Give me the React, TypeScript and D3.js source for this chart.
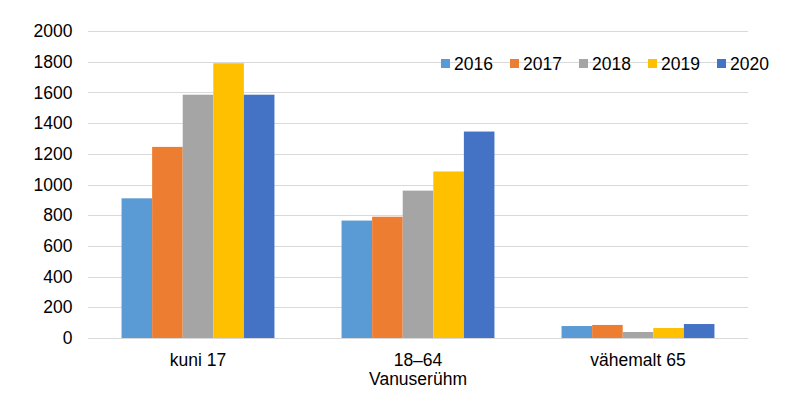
import * as d3 from "d3";

const categories = ["kuni 17", "18–64", "vähemalt 65"];
const years = ["2016", "2017", "2018", "2019", "2020"];
const values2016 = [910, 765, 78];
const values2017 = [1245, 790, 85];
const values2018 = [1585, 960, 39];
const values2019 = [1790, 1085, 65];
const values2020 = [1585, 1345, 91];
const yTicks = [0, 200, 400, 600, 800, 1000, 1200, 1400, 1600, 1800, 2000];
const colors = ["#5B9BD5", "#ED7D31", "#A5A5A5", "#FFC000", "#4472C4"];
const axisTitle = "Vanuserühm";

const series = [values2016, values2017, values2018, values2019, values2020];

const App = () => {
  const width = 786;
  const height = 395;
  const left = 88;
  const right = 748;
  const top = 31;
  const bottom = 338;

  const x0 = d3
    .scaleBand()
    .domain(categories)
    .range([left, right])
    .paddingInner(0.305)
    .paddingOuter(0.1525);
  const x1 = d3.scaleBand().domain(years).range([0, x0.bandwidth()]);
  const y = d3.scaleLinear().domain([0, 2000]).range([bottom, top]);

  const font = "'Liberation Sans', Arial, sans-serif";
  const fs = 17.5;

  return (
    <svg
      width={width}
      height={height}
      style={{ position: "absolute", left: 0, top: 0 }}
      fontFamily={font}
    >
      <rect width={width} height={height} fill="white" />
      {/* grid */}
      {yTicks.map((t) => (
        <g key={t}>
          <line
            x1={left}
            x2={right}
            y1={Math.round(y(t)) + 0.5}
            y2={Math.round(y(t)) + 0.5}
            stroke="#D9D9D9"
            strokeWidth={1}
          />
          <text
            x={72.5}
            y={y(t)}
            dy="0.35em"
            textAnchor="end"
            fontSize={fs}
            fill="#000"
          >
            {t}
          </text>
        </g>
      ))}
      {/* bars */}
      {categories.map((c, ci) => (
        <g key={c} transform={`translate(${x0(c)},0)`}>
          {years.map((yr, si) => (
            <rect
              key={yr}
              x={x1(yr)}
              y={y(series[si][ci])}
              width={x1.bandwidth()}
              height={bottom - y(series[si][ci])}
              fill={colors[si]}
            />
          ))}
        </g>
      ))}
      {/* category labels */}
      {categories.map((c) => (
        <text
          key={c}
          x={(x0(c) ?? 0) + x0.bandwidth() / 2}
          y={366}
          textAnchor="middle"
          fontSize={fs}
          fill="#000"
        >
          {c}
        </text>
      ))}
      <text x={(left + right) / 2} y={385} textAnchor="middle" fontSize={fs} fill="#000">
        {axisTitle}
      </text>
      {/* legend */}
      {years.map((yr, i) => (
        <g key={yr} transform={`translate(${441 + i * 69},0)`}>
          <rect x={0} y={59} width={9} height={9} fill={colors[i]} />
          <text x={13} y={63.5} dy="0.35em" fontSize={fs} fill="#000">
            {yr}
          </text>
        </g>
      ))}
    </svg>
  );
};

export default App;
